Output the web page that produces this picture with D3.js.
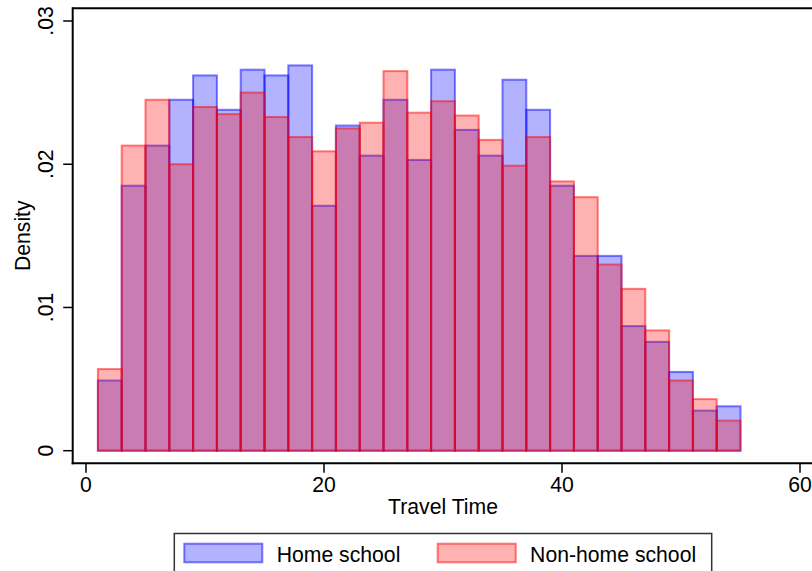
<!DOCTYPE html>
<html>
<head>
<meta charset="utf-8">
<script src="https://cdn.jsdelivr.net/npm/d3@7"></script>
<style>
  html, body { margin: 0; padding: 0; background: #fff; }
  svg { display: block; }
  text { font-family: "Liberation Sans", Arial, sans-serif; fill: #000; }
</style>
</head>
<body>
<svg id="chart" width="812" height="571"></svg>
<script>
// Bin edges (travel time), width 2
const binEdges = [1,3,5,7,9,11,13,15,17,19,21,23,25,27,29,31,33,35,37,39,41,43,45,47,49,51,53,55];
// Density values per bin
const homeSchool = [0.0049, 0.0185, 0.0213, 0.0245, 0.0262, 0.0238, 0.0266, 0.0262, 0.0269, 0.0171,
                    0.0227, 0.0206, 0.0245, 0.0203, 0.0266, 0.0224, 0.0206, 0.0259, 0.0238, 0.0185,
                    0.0136, 0.0136, 0.0087, 0.0076, 0.0055, 0.0028, 0.0031];
const nonHomeSchool = [0.0057, 0.0213, 0.0245, 0.0200, 0.0240, 0.0235, 0.0250, 0.0233, 0.0219, 0.0209,
                       0.0225, 0.0229, 0.0265, 0.0236, 0.0244, 0.0234, 0.0217, 0.0199, 0.0219, 0.0188,
                       0.0177, 0.0130, 0.0113, 0.0084, 0.0049, 0.0036, 0.0021];
const xTicks = [0, 20, 40, 60];
const yTicks = [0, 0.01, 0.02, 0.03];
const yTickLabels = ["0", ".01", ".02", ".03"];
const seriesNames = ["Home school", "Non-home school"];

const svg = d3.select("#chart");
const x = d3.scaleLinear().domain([0, 60]).range([86, 800]);
const y = d3.scaleLinear().domain([0, 0.03]).range([450.7, 21]);
const fontSize = 21.2;

const series = [
  { name: seriesNames[0], values: homeSchool, fill: "rgba(0,0,255,0.3)", stroke: "rgba(0,0,255,0.5)" },
  { name: seriesNames[1], values: nonHomeSchool, fill: "rgba(255,0,0,0.3)", stroke: "rgba(255,0,0,0.5)" }
];

// Bars
series.forEach(s => {
  svg.append("g").selectAll("rect")
    .data(s.values.map((v, i) => ({ v, x0: binEdges[i], x1: binEdges[i + 1] })))
    .join("rect")
    .attr("x", d => x(d.x0))
    .attr("width", d => x(d.x1) - x(d.x0))
    .attr("y", d => y(d.v))
    .attr("height", d => y(0) - y(d.v))
    .attr("fill", s.fill)
    .attr("stroke", s.stroke)
    .attr("stroke-width", 2);
});

// Frame / axes lines
const axisLeftX = 72.7, axisBottomY = 463.2, topY = 8.3;
svg.append("line").attr("x1", axisLeftX).attr("x2", 812).attr("y1", topY).attr("y2", topY)
  .attr("stroke", "#000").attr("stroke-width", 2);
svg.append("line").attr("x1", axisLeftX).attr("x2", axisLeftX).attr("y1", topY - 1).attr("y2", axisBottomY + 1)
  .attr("stroke", "#000").attr("stroke-width", 2);
svg.append("line").attr("x1", axisLeftX - 1).attr("x2", 812).attr("y1", axisBottomY).attr("y2", axisBottomY)
  .attr("stroke", "#000").attr("stroke-width", 2);

// Y ticks
const yt = svg.append("g");
yTicks.forEach((t, i) => {
  yt.append("line").attr("x1", axisLeftX - 9.5).attr("x2", axisLeftX).attr("y1", y(t)).attr("y2", y(t))
    .attr("stroke", "#000").attr("stroke-width", 1.5);
  yt.append("text")
    .attr("transform", `translate(53.3,${y(t)}) rotate(-90)`)
    .attr("text-anchor", "middle")
    .attr("font-size", fontSize)
    .text(yTickLabels[i]);
});

// X ticks
const xt = svg.append("g");
xTicks.forEach(t => {
  xt.append("line").attr("x1", x(t)).attr("x2", x(t)).attr("y1", axisBottomY).attr("y2", axisBottomY + 9.5)
    .attr("stroke", "#000").attr("stroke-width", 1.5);
  xt.append("text").attr("x", x(t)).attr("y", 492.3)
    .attr("text-anchor", "middle").attr("font-size", fontSize).text(t);
});

// Axis titles
svg.append("text").attr("x", (x(0) + x(60)) / 2).attr("y", 514.3)
  .attr("text-anchor", "middle").attr("font-size", fontSize).text("Travel Time");
svg.append("text")
  .attr("transform", `translate(30,${(topY + axisBottomY) / 2}) rotate(-90)`)
  .attr("text-anchor", "middle").attr("font-size", fontSize).text("Density");

// Legend
const lg = svg.append("g");
lg.append("rect").attr("x", 174.3).attr("y", 533.5).attr("width", 537.4).attr("height", 60)
  .attr("fill", "#fff").attr("stroke", "#333").attr("stroke-width", 1.5);
const legendX = [183.3, 436.7];
series.forEach((s, i) => {
  lg.append("rect").attr("x", legendX[i] + 1).attr("y", 543.7).attr("width", 78).attr("height", 18.6)
    .attr("fill", s.fill).attr("stroke", s.stroke).attr("stroke-width", 2);
  lg.append("text").attr("x", legendX[i] + 93.4).attr("y", 561.5)
    .attr("font-size", fontSize).text(s.name);
});
</script>
</body>
</html>
